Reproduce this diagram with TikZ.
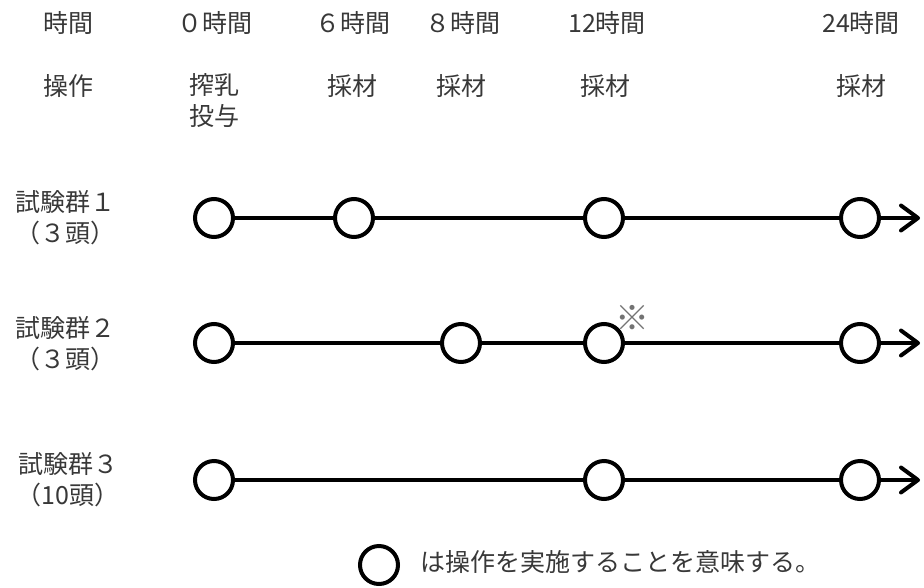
\documentclass[tikz,border=0pt]{standalone}
\usepackage{fontspec}
\setmainfont{Noto Sans CJK JP}
\usetikzlibrary{arrows.meta}
\tikzset{
  pt/.style={circle, draw=black, line width=4pt, minimum size=38pt, inner sep=0pt},
  conn/.style={draw=black, line width=4pt},
  arr/.style={conn, -{Straight Barb[length=17pt,width=25pt,round]}},
  lbl/.style={text=black!78, font=\fontsize{25}{31}\selectfont, inner sep=0pt, align=center},
  note/.style={text=black!55, font=\fontsize{34}{36}\selectfont, inner sep=0pt}
}
\begin{document}
\begin{tikzpicture}[x=1pt,y=-1pt]
\useasboundingbox (0,0) rectangle (924,587);
% headers
\node[lbl] (h0) at (68,23) {時間};
\node[lbl] (h1) at (215,23) {０時間};
\node[lbl] (h2) at (353,23) {６時間};
\node[lbl] (h3) at (463,23) {８時間};
\node[lbl] (h4) at (607,23) {12時間};
\node[lbl] (h5) at (861,23) {24時間};
% operations
\node[lbl] (o0) at (68,86) {操作};
\node[lbl, anchor=north] (o1) at (214,73) {搾乳\\投与};
\node[lbl] (o2) at (352,86) {採材};
\node[lbl] (o3) at (461,86) {採材};
\node[lbl] (o4) at (605,86) {採材};
\node[lbl] (o5) at (861,86) {採材};
% group labels
\node[lbl] (g1) at (66,218) {試験群１\\（３頭）};
\node[lbl] (g2) at (66,344) {試験群２\\（３頭）};
\node[lbl] (g3) at (68,480) {試験群３\\（10頭）};
% group 1
\node[pt] (a1) at (214,218) {};
\node[pt] (a2) at (354,218) {};
\node[pt] (a3) at (604,218) {};
\node[pt] (a4) at (860,218) {};
\coordinate (ae) at (920,218);
\draw[conn] (a1) -- (a2);
\draw[conn] (a2) -- (a3);
\draw[conn] (a3) -- (a4);
\draw[arr] (a4) -- (ae);
% group 2
\node[pt] (b1) at (214,343) {};
\node[pt] (b2) at (461,343) {};
\node[pt] (b3) at (604,343) {};
\node[pt] (b4) at (860,343) {};
\coordinate (be) at (920,343);
\draw[conn] (b1) -- (b2);
\draw[conn] (b2) -- (b3);
\draw[conn] (b3) -- (b4);
\draw[arr] (b4) -- (be);
\node[note] (star) at (632,318) {※};
% group 3
\node[pt] (c1) at (214,480) {};
\node[pt] (c3) at (604,480) {};
\node[pt] (c4) at (860,480) {};
\coordinate (ce) at (920,480);
\draw[conn] (c1) -- (c3);
\draw[conn] (c3) -- (c4);
\draw[arr] (c4) -- (ce);
% legend
\node[pt] (leg) at (379,565) {};
\node[lbl, anchor=west] (legt) at (420,562) {は操作を実施することを意味する。};
\end{tikzpicture}
\end{document}
